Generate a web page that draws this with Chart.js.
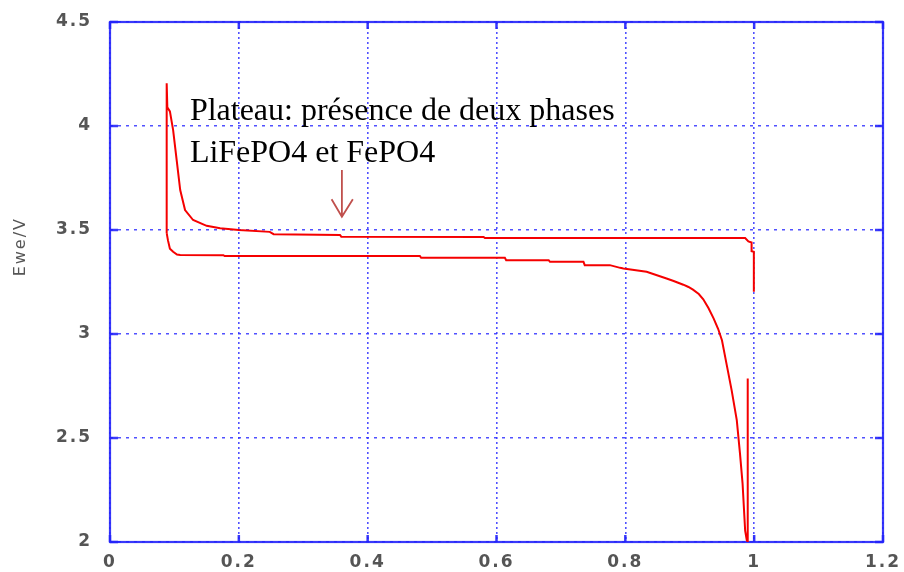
<!DOCTYPE html>
<html>
<head>
<meta charset="utf-8">
<script src="https://cdn.jsdelivr.net/npm/chart.js@4.4.1/dist/chart.umd.min.js"></script>
<style>
html,body{margin:0;padding:0;background:#fff;}
#wrap{width:904px;height:572px;}
</style>
</head>
<body>
<div id="wrap"><canvas id="c" width="904" height="572"></canvas></div>
<script>
// ---- data ----
const xTickLabels = ['0', '0.2', '0.4', '0.6', '0.8', '1', '1.2'];
const yTickLabels = ['2', '2.5', '3', '3.5', '4', '4.5'];
const yAxisTitle = 'Ewe/V';
const annotationLines = ['Plateau: présence de deux phases', 'LiFePO4 et FePO4'];

// upper curve (charge plateau)
const chargeX = [0.088, 0.088, 0.089, 0.093, 0.098, 0.1035, 0.109, 0.1165, 0.129, 0.150, 0.171, 0.200, 0.248, 0.254, 0.357, 0.359, 0.580, 0.582, 0.986, 0.991, 0.996, 0.996, 0.9995, 0.9995];
const chargeV = [3.485, 4.205, 4.090, 4.070, 3.980, 3.836, 3.692, 3.596, 3.548, 3.520, 3.508, 3.500, 3.491, 3.480, 3.476, 3.468, 3.466, 3.461, 3.461, 3.445, 3.440, 3.398, 3.395, 3.203];

// lower curve (discharge plateau)
const dischargeX = [0.088, 0.090, 0.093, 0.098, 0.104, 0.109, 0.176, 0.178, 0.481, 0.483, 0.613, 0.615, 0.681, 0.683, 0.735, 0.737, 0.776, 0.792, 0.797, 0.833, 0.864, 0.875, 0.890, 0.898, 0.905, 0.914, 0.921, 0.929, 0.937, 0.944, 0.950, 0.958, 0.965, 0.973, 0.978, 0.982, 0.986, 0.9886, 0.990, 0.990];
const dischargeV = [3.485, 3.450, 3.410, 3.395, 3.382, 3.380, 3.379, 3.375, 3.375, 3.366, 3.366, 3.355, 3.355, 3.347, 3.347, 3.331, 3.331, 3.318, 3.315, 3.299, 3.267, 3.255, 3.237, 3.226, 3.213, 3.192, 3.167, 3.125, 3.075, 3.025, 2.970, 2.842, 2.730, 2.586, 2.425, 2.281, 2.055, 2.008, 2.000, 2.786];

// annotation anchor (in data units)
const noteX = 0.124;
const noteBaselines = [4.029, 3.828];
const arrowX = 0.360;
const arrowTop = 3.788;
const arrowTip = 3.564;
const arrowWing = [0.344, 3.648, 0.377, 3.648];
const titleAtV = 3.42;

const toPts = (xs, ys) => xs.map((x, i) => ({x: x, y: ys[i]}));

const BLUE = 'rgba(35,35,250,0.9)';
const GRIDBLUE = 'rgba(50,50,255,0.85)';

const framePlugin = {
  id: 'frame',
  beforeDraw(chart) {
    chart.ctx.letterSpacing = '2px';
  },
  beforeDatasetsDraw(chart) {
    const ctx = chart.ctx, a = chart.chartArea;
    const xs = chart.scales.x, ys = chart.scales.y;
    ctx.save();
    ctx.strokeStyle = BLUE;
    ctx.lineWidth = 2.5;
    xs.ticks.forEach(t => {
      const px = xs.getPixelForValue(t.value);
      ctx.beginPath();
      ctx.moveTo(px, a.bottom); ctx.lineTo(px, a.bottom - 7);
      ctx.moveTo(px, a.top); ctx.lineTo(px, a.top + 7);
      ctx.stroke();
    });
    ys.ticks.forEach(t => {
      const py = ys.getPixelForValue(t.value);
      ctx.beginPath();
      ctx.moveTo(a.left, py); ctx.lineTo(a.left + 8, py);
      ctx.moveTo(a.right, py); ctx.lineTo(a.right - 8, py);
      ctx.stroke();
    });
    ctx.lineWidth = 2.2;
    ctx.strokeRect(a.left, a.top, a.right - a.left, a.bottom - a.top);
    ctx.restore();
  },
  afterDraw(chart) {
    const ctx = chart.ctx;
    const xs = chart.scales.x, ys = chart.scales.y;
    ctx.save();
    ctx.letterSpacing = '2px';
    ctx.fillStyle = '#555';
    ctx.font = '16px "DejaVu Sans", sans-serif';
    ctx.translate(21, ys.getPixelForValue(titleAtV));
    ctx.rotate(-Math.PI / 2);
    ctx.textAlign = 'center';
    ctx.textBaseline = 'middle';
    ctx.fillText(yAxisTitle, 0, 0);
    ctx.restore();

    ctx.save();
    ctx.letterSpacing = '0px';
    ctx.fillStyle = '#000';
    ctx.font = '32px "Liberation Serif", "Times New Roman", serif';
    ctx.textAlign = 'left';
    ctx.textBaseline = 'alphabetic';
    annotationLines.forEach((s, i) => {
      ctx.fillText(s, xs.getPixelForValue(noteX), ys.getPixelForValue(noteBaselines[i]));
    });
    ctx.strokeStyle = '#c0504d';
    ctx.lineWidth = 1.8;
    ctx.beginPath();
    ctx.moveTo(xs.getPixelForValue(arrowX), ys.getPixelForValue(arrowTop));
    ctx.lineTo(xs.getPixelForValue(arrowX), ys.getPixelForValue(arrowTip));
    ctx.moveTo(xs.getPixelForValue(arrowWing[0]), ys.getPixelForValue(arrowWing[1]));
    ctx.lineTo(xs.getPixelForValue(arrowX), ys.getPixelForValue(arrowTip));
    ctx.lineTo(xs.getPixelForValue(arrowWing[2]), ys.getPixelForValue(arrowWing[3]));
    ctx.stroke();
    ctx.restore();
  }
};

const tickFont = {family: '"DejaVu Sans", sans-serif', size: 17, weight: 'bold'};

new Chart(document.getElementById('c'), {
  type: 'scatter',
  data: {
    datasets: [
      {label: 'charge', data: toPts(chargeX, chargeV), showLine: true, borderColor: 'rgb(245,0,0)', borderWidth: 2, pointRadius: 0, tension: 0},
      {label: 'discharge', data: toPts(dischargeX, dischargeV), showLine: true, borderColor: 'rgb(245,0,0)', borderWidth: 2, pointRadius: 0, tension: 0}
    ]
  },
  options: {
    responsive: false,
    animation: false,
    events: [],
    layout: {padding: {top: 22, right: 21, left: 0, bottom: 0}},
    plugins: {legend: {display: false}, tooltip: {enabled: false}, title: {display: false}},
    scales: {
      x: {
        type: 'linear', min: 0, max: 1.2,
        afterFit: s => { s.height = 30; s.paddingLeft = 0; s.paddingRight = 0; },
        ticks: {stepSize: 0.2, color: '#555', font: tickFont, padding: 10, maxRotation: 0,
          callback: (v, i) => xTickLabels[i]},
        grid: {color: GRIDBLUE, lineWidth: 1.6, drawTicks: false},
        border: {display: false, dash: [2, 3]}
      },
      y: {
        type: 'linear', min: 2, max: 4.5,
        afterFit: s => { s.width = 110; s.paddingTop = 0; s.paddingBottom = 0; },
        ticks: {stepSize: 0.5, color: '#555', font: tickFont, padding: 18,
          callback: (v, i) => yTickLabels[i]},
        grid: {color: GRIDBLUE, lineWidth: 1.6, drawTicks: false},
        border: {display: false, dash: [3, 5]}
      }
    }
  },
  plugins: [framePlugin]
});
</script>
</body>
</html>
